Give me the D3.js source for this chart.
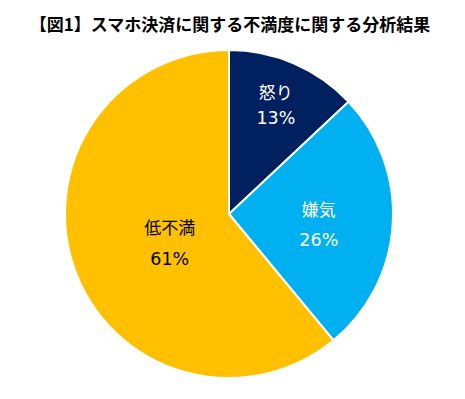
<!DOCTYPE html>
<html>
<head>
<meta charset="utf-8">
<script src="https://cdn.jsdelivr.net/npm/d3@7"></script>
<style>
  body { margin: 0; background: #fff; }
  text { font-family: "Noto Sans CJK JP", "Noto Sans", sans-serif; }
</style>
</head>
<body>
<div id="chart"></div>
<script>
var categories = ["怒り", "嫌気", "低不満"]
var values = [13, 26, 61]
var colors = ["#002060", "#00b0f0", "#ffc000"]
var textColors = ["#ffffff", "#ffffff", "#000000"]
var title = "【図1】スマホ決済に関する不満度に関する分析結果"

var svgWidth = 465
var svgHeight = 399

var cx = 229, cy = 214, radius = 164

// best-fit label placement: distance from centre, name/percent baseline offsets
var labelDist = [118, 90, 63]
var nameDy = [-6.7, -3.6, -1.2]
var pctDy = [18.6, 26, 29.8]

var svg = d3.select("#chart").append("svg")
  .attr("width", svgWidth)
  .attr("height", svgHeight)

svg.append("text")
  .attr("x", 230)
  .attr("y", 31)
  .attr("text-anchor", "middle")
  .attr("font-size", 17)
  .attr("font-weight", "bold")
  .attr("fill", "#000")
  .text(title)

var pie = d3.pie().sort(null).value(function(d){ return d })
var arcs = pie(values)

var arc = d3.arc().innerRadius(0).outerRadius(radius)

var g = svg.append("g").attr("transform", `translate(${cx},${cy})`)

g.selectAll("path")
  .data(arcs)
  .enter().append("path")
  .attr("d", arc)
  .attr("fill", function(d, i){ return colors[i] })
  .attr("stroke", "#fff")
  .attr("stroke-width", 2)
  .attr("stroke-linejoin", "round")

var labels = g.selectAll("g.lbl")
  .data(arcs)
  .enter().append("g")
  .attr("class", "lbl")
  .attr("transform", function(d, i){
    var a = (d.startAngle + d.endAngle) / 2
    var x = Math.sin(a) * labelDist[i]
    var y = -Math.cos(a) * labelDist[i]
    return `translate(${x},${y})`
  })

labels.append("text")
  .attr("text-anchor", "middle")
  .attr("y", function(d, i){ return nameDy[i] })
  .attr("font-size", 17)
  .attr("fill", function(d, i){ return textColors[i] })
  .text(function(d, i){ return categories[i] })

labels.append("text")
  .attr("text-anchor", "middle")
  .attr("y", function(d, i){ return pctDy[i] })
  .attr("font-size", 17.5)
  .style("font-family", "'DejaVu Sans', sans-serif")
  .attr("fill", function(d, i){ return textColors[i] })
  .text(function(d){ return d.data + "%" })
</script>
</body>
</html>
